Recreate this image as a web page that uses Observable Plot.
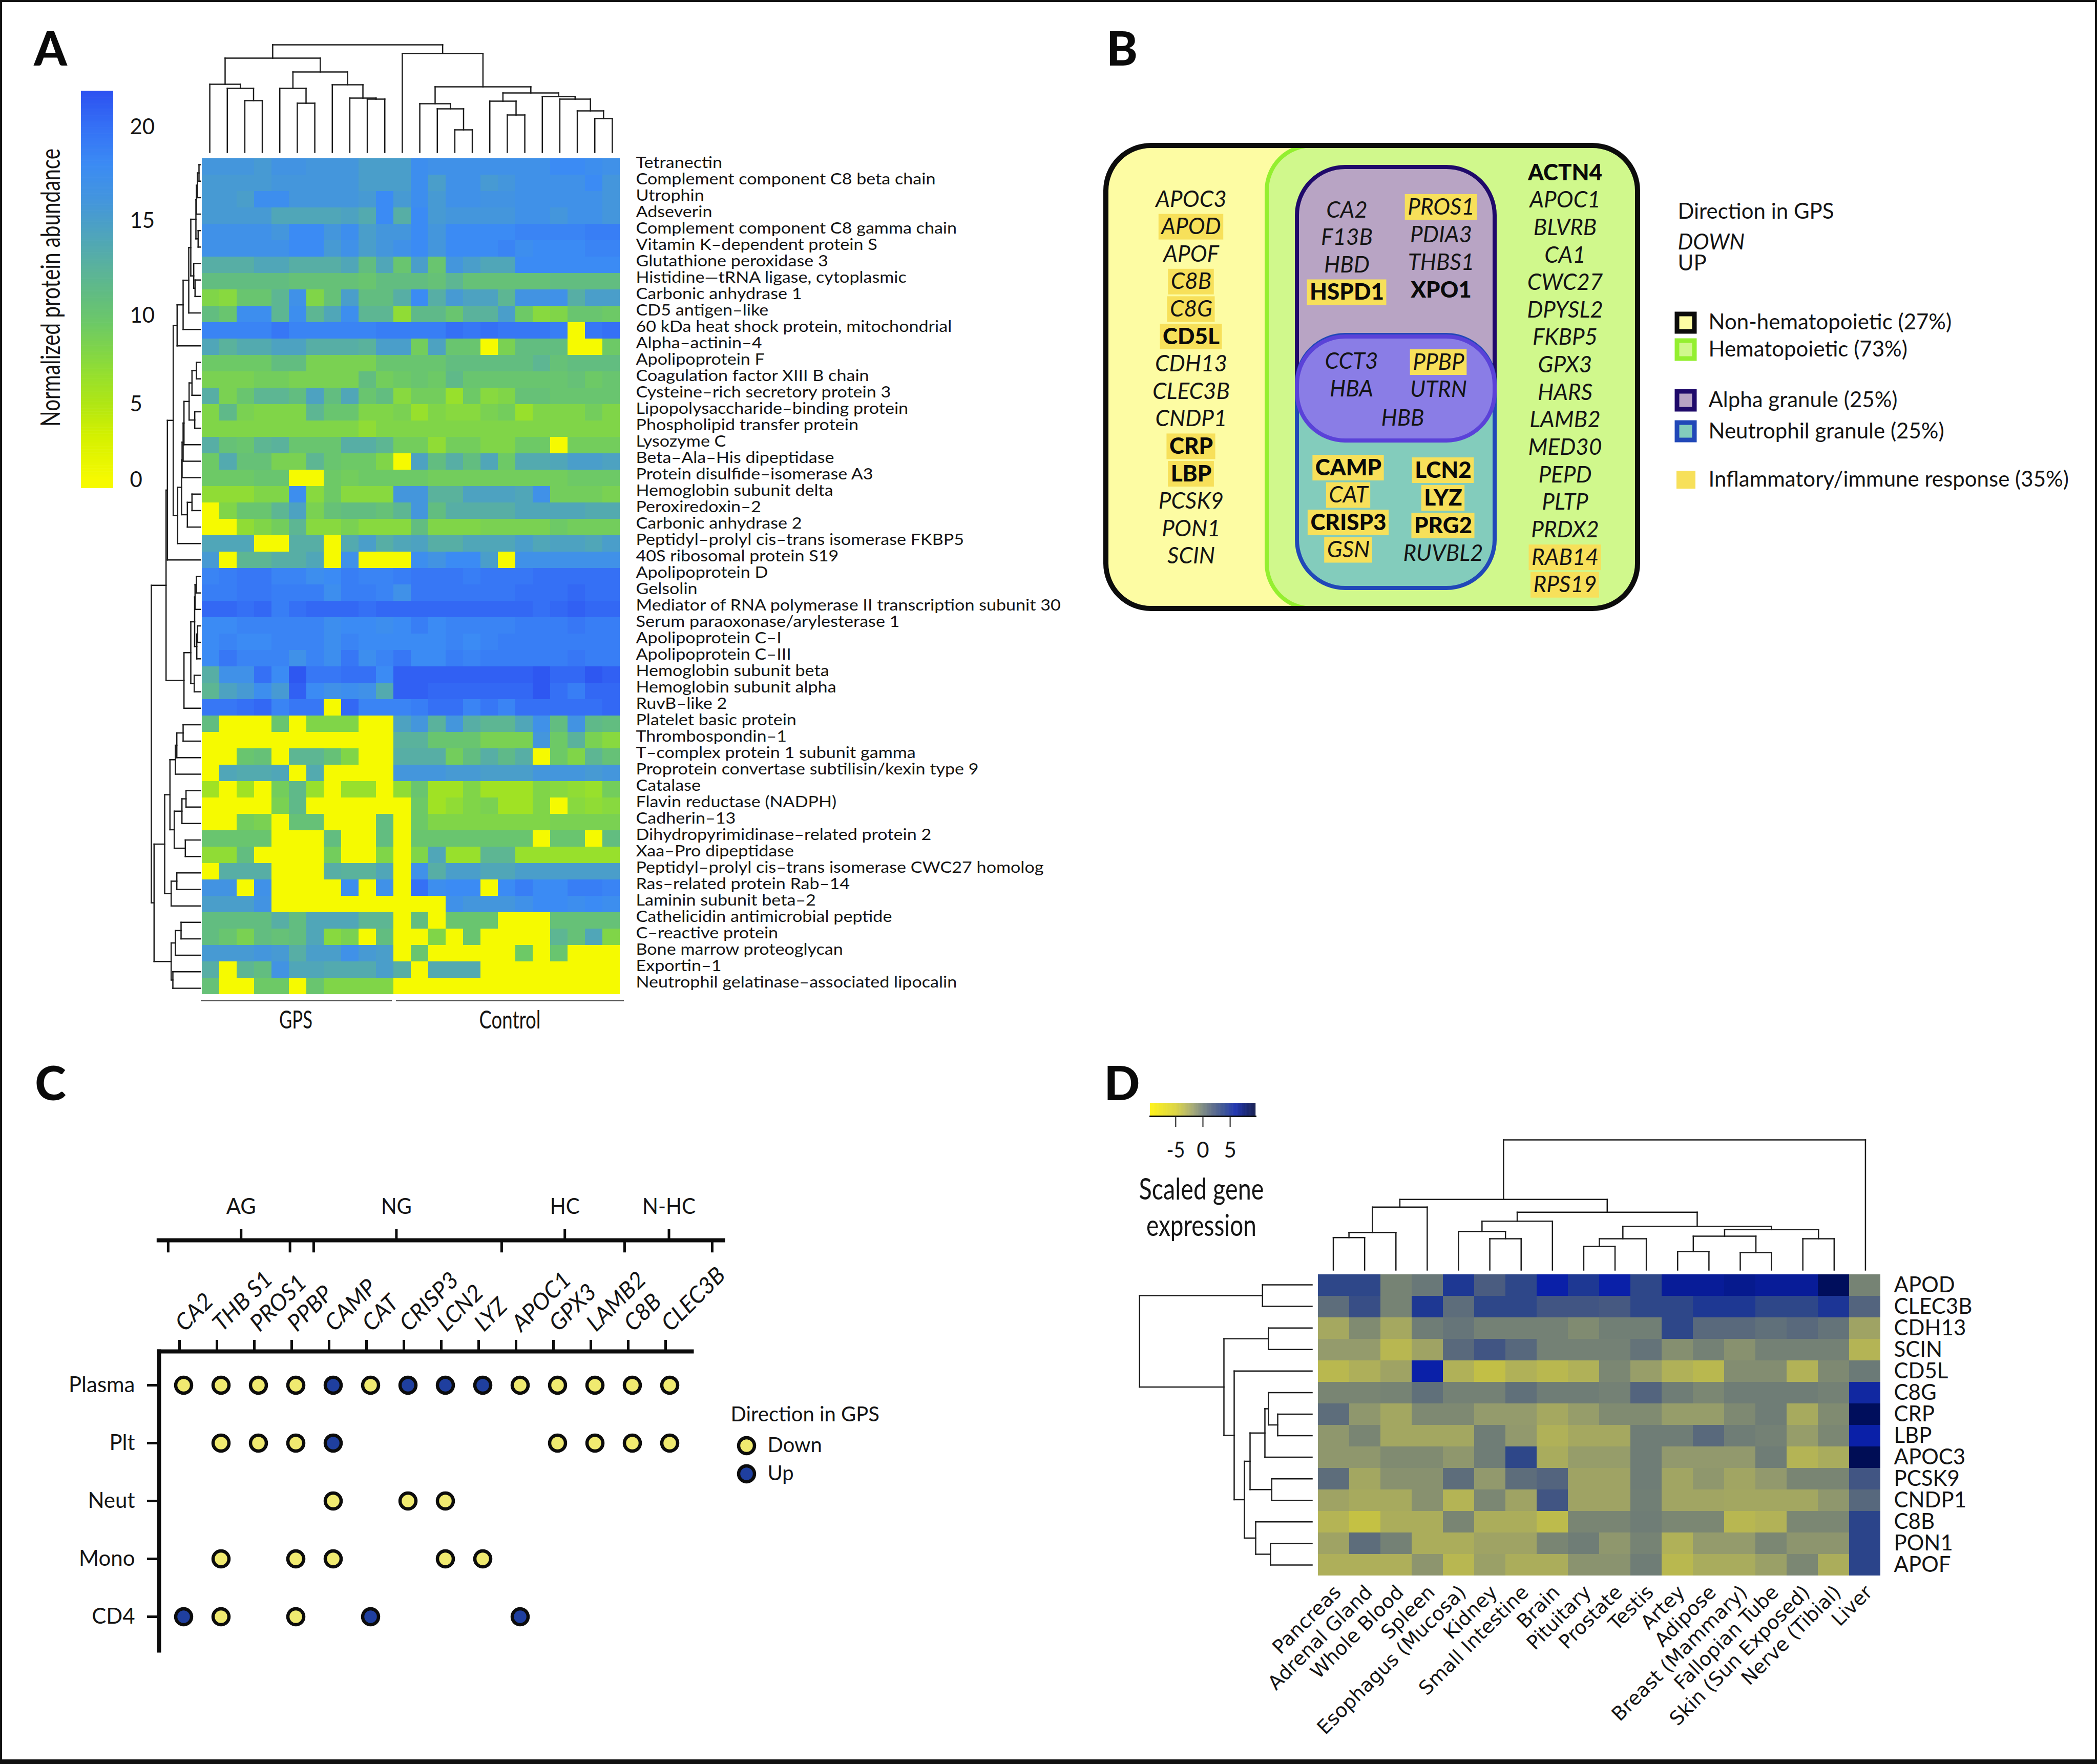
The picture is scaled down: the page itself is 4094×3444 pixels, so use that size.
<!DOCTYPE html>
<html><head><meta charset="utf-8">
<script src="https://cdn.jsdelivr.net/npm/d3@7"></script>
<script src="https://cdn.jsdelivr.net/npm/@observablehq/plot@0.6"></script>
<style>
html,body{margin:0;padding:0;background:#fff}
#root{position:relative;width:4094px;height:3444px;overflow:hidden;background:#fff}
#frame{position:absolute;inset:0;border:solid #111;border-width:4px 4px 9px 4px;box-sizing:border-box;pointer-events:none}
</style></head><body><div id="root"><div id="frame"></div></div>
<script>
// ---------- Panel A data ----------
const proteins=["Tetranectin","Complement component C8 beta chain","Utrophin","Adseverin","Complement component C8 gamma chain","Vitamin K–dependent protein S","Glutathione peroxidase 3","Histidine—tRNA ligase, cytoplasmic","Carbonic anhydrase 1","CD5 antigen–like","60 kDa heat shock protein, mitochondrial","Alpha–actinin–4","Apolipoprotein F","Coagulation factor XIII B chain","Cysteine–rich secretory protein 3","Lipopolysaccharide–binding protein","Phospholipid transfer protein","Lysozyme C","Beta–Ala–His dipeptidase","Protein disulfide–isomerase A3","Hemoglobin subunit delta","Peroxiredoxin–2","Carbonic anhydrase 2","Peptidyl–prolyl cis–trans isomerase FKBP5","40S ribosomal protein S19","Apolipoprotein D","Gelsolin","Mediator of RNA polymerase II transcription subunit 30","Serum paraoxonase/arylesterase 1","Apolipoprotein C–I","Apolipoprotein C–III","Hemoglobin subunit beta","Hemoglobin subunit alpha","RuvB–like 2","Platelet basic protein","Thrombospondin–1","T–complex protein 1 subunit gamma","Proprotein convertase subtilisin/kexin type 9","Catalase","Flavin reductase (NADPH)","Cadherin–13","Dihydropyrimidinase–related protein 2","Xaa–Pro dipeptidase","Peptidyl–prolyl cis–trans isomerase CWC27 homolog","Ras–related protein Rab–14","Laminin subunit beta–2","Cathelicidin antimicrobial peptide","C–reactive protein","Bone marrow proteoglycan","Exportin–1","Neutrophil gelatinase–associated lipocalin"];
const abundance=[
[16,16,16,15.5,16.5,16.5,16,16,16,15,15,15,17.5,17,17,17,17,17,17,17,18,18,17.5,17],
[15.5,15.5,15.5,15.5,16,16,16,16,16,15,15,15,17.5,15,17,17,15.5,16,17,17,17,17,18,16],
[15.5,15.5,15,17.5,17.5,16,16,16,16,15.5,18,15.5,17.5,15.5,17,17,16.5,16.5,17,17,17,17,17,16],
[15.5,15.5,15.5,15.5,14,14,14,14,14.5,13.5,18,13,18,15.5,16,16,16,16,17,17,16,17,17,16],
[17,17,17,17,16,18,18,16,17.5,15,16,16,18,16,18,18,18,18,18.5,18.5,18.5,18.5,19,19],
[17,17,17,17,17,18,18,15.5,17,15,16,17,18,16,18,18,18,18.5,17.5,18,18,18,18.5,18.5],
[13,13,13,14,14,13,13,13,14,11,14,10,15,10,16,15,14,14,18,18,18,18,18,18],
[11,11,11,11,11,10.5,10.5,10.5,10.5,10,11,11,11,10.5,12,10.5,10.5,10.5,10.5,10.5,11,11,11,11],
[8,7.5,10,10,12,17,8,10.5,15,11,11,13,18,13,15.5,14.5,14.5,12,16.5,16.5,17,13,15,15],
[11,10,17.5,17.5,12,17.5,12,14,17.5,12,12,7,11.5,11.5,10,12.5,12.5,15,9.5,7.5,8,10,10,9.5],
[18.5,18.5,18.5,18.5,19.5,18.5,18.5,18.5,18.5,18.5,19,19,19,19,20,19.5,20,19.5,19.5,19.5,19,0,19.5,20],
[14,12.5,13.5,13.5,14.5,14.5,13,13,13,12.5,15,15,9,14.5,10,10,0,8.5,11,11,11,0,0,9.5],
[9.5,9.5,9.5,9.5,11,11,8.5,8.5,8.5,8.5,10,10,10,10,11,11,11,11,11,12,10.5,11,11,11],
[8.5,8.5,8.5,9,9,8.5,8.5,8.5,8.5,11,9,9.5,10,9.5,11.5,10,10,10,10,10,10,10.5,9.5,10],
[13,8.5,10,12,12,11,14.5,11,14,10,11,7.5,9,9,6.5,9.5,7.5,8,10.5,10.5,10,10,10,10],
[8,11.5,8.5,8,8,8,12,10,10,8,8,8.5,6.5,8,7.5,7.5,8.5,9,6.5,8,8,8,9,8],
[8,8,8,8,8,8,8,8,8,7,8,8,8,8,8,8,8,8,8,8,8,8,8,8],
[13,10.5,10,12,12.5,10,10,10,13,13,12,9,9,7,9,9,8,8,9.5,9.5,0,9,9,9],
[9.5,13.5,10.5,10.5,8.5,8.5,12,10,9.5,9.5,8,0,14.5,11,13,11,14,9.5,13.5,13.5,14,15,15,14.5],
[9.5,9.5,9.5,10,10,0,0,9.5,9,9.5,9.5,9.5,9.5,9,9,9,9,9,9,9,9,9.5,9.5,9.5],
[7,7,7,8,8,17.5,7.5,9.5,7.5,7.5,7.5,16,16,12.5,12.5,14.5,14.5,14.5,14,17,9,9,9,8.5],
[0,8,10,10,12,14.5,8.5,10.5,11,11,10.5,12,16,11,13,13,13,13,14,14,14,14,13.5,13.5],
[0,0,7,8,9,12,7.5,7.5,8.5,7.5,7.5,7.5,11,8,8,8,8.5,8.5,8.5,8.5,9.5,9,9,9],
[14,14,14,0,0,13,13,0,13.5,15,13,14,14.5,13,13,14,14,14,15,14,14.5,14.5,14,15],
[15.5,0,12,12,13,13,14,0,17,0,0,0,17.5,16.5,18,18,15,0,17,17,17,17,17,17],
[18.5,19,19.5,19.5,18.5,18.5,17.5,18,19,18.5,18.5,19,19.5,19.5,19.5,19,19.5,19.5,19.5,20,20,20,20,20],
[19,19,19.5,19.5,19,19,19,17.5,19,19,18.5,17,19.5,19.5,19.5,19.5,19.5,19.5,20,20,20,20.5,20,20],
[20.5,20.5,20,20.5,19,20,20.5,20.5,20.5,20,20.5,20.5,20.5,20.5,20.5,20.5,20.5,20.5,20.5,20,20.5,21,20.5,20.5],
[18,18,18.5,18.5,18.5,18.5,18.5,17.5,18,18,17.5,18,19,18,18.5,18.5,18.5,18.5,19,19,19,19.5,19,19],
[18,18.5,18,18,18.5,18.5,18.5,17.5,18.5,18,18,18,18,18,18.5,18,18.5,19,19,19,19,19,19,19],
[18,19.5,18.5,18.5,18.5,17,18.5,17.5,19.5,17.5,18.5,19.5,18,18,19,18.5,19,19,19,19,19,19.5,19,19],
[13,17,17,20,18,21.5,19.5,19.5,20,20,18,21,21,21,21,21,21,21,21,21.5,20.5,20.5,21.5,21],
[12,14.5,15.5,17.5,15.5,21,18,17,17.5,17,13.5,21,21,20.5,20.5,20.5,20.5,20.5,20.5,21.5,20,19,20.5,20.5],
[19.5,19.5,20,20.5,18.5,19.5,19.5,0,20.5,18.5,18.5,18.5,19,20,20,18.5,19.5,18.5,20,20,20,20,20,20.5],
[11,0,0,0,10,0,8,8,8,0,0,14.5,16,12.5,16,13,12,12,14,17,11,16.5,11.5,11],
[0,0,0,0,0,0,0,0,0,0,0,12.5,12.5,10,10,10,8.5,8.5,8.5,16,9.5,12.5,8.5,7.5],
[0,0,10,10.5,0,12,12,10.5,8,0,0,13,13,13,9,11,13,11.5,13,0,9.5,8,12,10.5],
[0,14,13.5,13.5,14,0,13.5,0,0,0,0,16,16,16,15.5,15.5,15,15,15,16,16,16,15.5,16],
[6,0,6,0,9,11.5,6.5,0,6.5,6.5,0,7,10,6,6,8,6,6,6,8,7.5,7,6.5,9],
[0,0,0,0,8.5,11.5,0,0,0,0,0,0,9.5,6,7,8,8.5,6,6,8,0,7.5,7,7.5],
[0,0,9,8.5,0,10.5,10.5,0,0,0,11,0,9.5,8,8,8,8,8,8,8,8.5,8.5,8.5,8.5],
[10,10,10,10,0,0,0,11,0,0,11,0,10,10,10,10,10,10,10,0,10,10,0,11],
[7,7,11,0,0,0,0,9,0,0,8,0,8,14,6.5,6.5,12,12,6.5,6.5,6.5,6.5,6.5,6.5],
[0,13,13,13,0,0,0,13,12.5,12.5,14,0,17,13,15,15,14,14,15,15,15,15,15,15],
[16.5,16.5,0,17,0,0,0,0,17.5,0,17,0,20,17.5,18,18,0,18,19,18,18,19,19,18.5],
[15,15,15,16.5,0,0,0,0,0,0,0,0,0,0,17,16,16,16,17,18,18,17.5,18,17.5],
[11,11,11,11,13,11,14,14,14,12,12,0,11,0,10,10,10,0,0,0,10.5,10.5,10.5,10.5],
[11,10,8.5,11,10.5,11,14,7.5,8.5,0,11,0,0,8,0,10,0,0,0,0,12,10.5,14,8],
[15.5,15.5,15.5,16,15.5,13,15,15,17,15.5,15,0,10,0,0,0,0,0,9.5,0,10,0,0,0],
[13,0,12,11,16.5,14,14,13.5,13.5,13.5,15,13,0,13.5,13.5,13.5,0,0,0,0,0,0,0,0],
[10.5,0,0,9.5,9.5,0,10,8,8,8,8,0,0,0,0,0,0,0,0,0,0,0,0,0]
];
const abundanceStops=[0,3,5,6.5,8,9.5,11,12.5,14,16,18,20,22];
const abundanceColors=["#f6fa00","#d2f000","#b0e614","#98e02c","#80d548","#6dc966","#62bd80","#5ab29c","#50a6b8","#4496dc","#3b8bf4","#3570f5","#2c4ff0"];
const abundanceTicks=[0,5,10,15,20];
// nested merges: [height, left, right]; numbers are leaves
const sampleTree=[210,[184,[133,0,[125,1,[101,2,3]]],[157,[125,4,[96,5,6]],[132,7,[106,8,[104,9,10]]]]],[193,11,[128,[95,12,[85,13,[44,14,15]]],[116,[100,16,[73,17,18]],[109,19,[104,20,[81,21,[66,22,23]]]]]]]];
const proteinTree=[96,[67.3,[64.7,[53.3,[45.7,[34,[23,[19,[9,[8,[6,[3,0,1],2],3],[4.7,4,5]],[13.3,6,[10.7,7,8]]],9],10],11],[44.7,[37,[36,[34,[32.3,[22.3,[16.7,[8,12,13],14],[11.3,15,16]],17],18],19],[25.7,[16.7,20,21],22]],23]],24],[32.3,[19,[11.5,[10.7,[8,25,26],27],[7.3,[5.7,28,29],30]],[12.3,31,32]],33]],[90.7,[70,[59.7,[49,[46.3,[34,34,35],36],37],[51.3,[36.3,[28.3,38,39],40],[29.7,41,42]]],[57.3,[46.3,43,44],45]],[57.3,[49,[38,46,47],48],[54,49,50]]]];
const groupNames=["GPS","Control"];

// ---------- Panel B data ----------
const geneColumns=[
 ["APOC3","APOD","APOF","C8B","C8G","CD5L","CDH13","CLEC3B","CNDP1","CRP","LBP","PCSK9","PON1","SCIN"],
 ["ACTN4","APOC1","BLVRB","CA1","CWC27","DPYSL2","FKBP5","GPX3","HARS","LAMB2","MED30","PEPD","PLTP","PRDX2","RAB14","RPS19"],
 ["CA2","F13B","HBD","HSPD1"],["PROS1","PDIA3","THBS1","XPO1"],
 ["CCT3","HBA"],["PPBP","UTRN"],["HBB"],
 ["CAMP","CAT","CRISP3","GSN"],["LCN2","LYZ","PRG2","RUVBL2"]
];
const inflammatory=["APOD","C8B","C8G","CD5L","CRP","LBP","RAB14","RPS19","PROS1","HSPD1","PPBP","CAMP","CAT","CRISP3","GSN","LCN2","LYZ","PRG2"];
const upGenes=["CD5L","CRP","LBP","ACTN4","HSPD1","XPO1","CAMP","CRISP3","LCN2","LYZ","PRG2"];
const legendB=["Non-hematopoietic (27%)","Hematopoietic (73%)","Alpha granule (25%)","Neutrophil granule (25%)","Inflammatory/immune response (35%)"];

// ---------- Panel C data ----------
const dotGenes=["CA2","THB S1","PROS1","PPBP","CAMP","CAT","CRISP3","LCN2","LYZ","APOC1","GPX3","LAMB2","C8B","CLEC3B"];
const compartments=["Plasma","Plt","Neut","Mono","CD4"];
const downByCompartment={Plasma:["CA2","THB S1","PROS1","PPBP","CAT","APOC1","GPX3","LAMB2","C8B","CLEC3B"],Plt:["THB S1","PROS1","PPBP","GPX3","LAMB2","C8B","CLEC3B"],Neut:["CAMP","CRISP3","LCN2"],Mono:["THB S1","PPBP","CAMP","LCN2","LYZ"],CD4:["THB S1","PPBP"]};
const upByCompartment={Plasma:["CAMP","CRISP3","LCN2","LYZ"],Plt:["CAMP"],Neut:[],Mono:[],CD4:["CA2","CAT","APOC1"]};
const groupTicks=[1.57,5.7,10.18,12.95];
const groupLabels=["AG","NG","HC","N-HC"];
const groupDividers=[-0.37,2.87,3.5,8.5,11.77,14.1];

// ---------- Panel D data ----------
const genesD=["APOD","CLEC3B","CDH13","SCIN","CD5L","C8G","CRP","LBP","APOC3","PCSK9","CNDP1","C8B","PON1","APOF"];
const tissues=["Pancreas","Adrenal Gland","Whole Blood","Spleen","Esophagus (Mucosa)","Kidney","Small Intestine","Brain","Pituitary","Prostate","Testis","Artey","Adipose","Breast (Mammary)","Fallopian Tube","Skin (Sun Exposed)","Nerve (Tibial)","Liver"];
const expression=[
[3.5,3.5,-0.3,0.3,4.5,2,3.5,6,4.5,6,3.5,6.5,6.5,6.8,6.5,6.5,8.5,-0.3],
[1,3,-0.3,4.5,1,3.5,3.5,2.5,2.5,2.2,3.5,3.5,4.5,4.5,3.5,3.5,4.7,1.5],
[-2.3,-0.7,-2.3,0,0.5,-0.2,-0.2,-0.2,-0.7,-0.1,-0.1,3.5,1.2,1.2,0.8,1.2,0.6,-2],
[-1.5,-1.5,-3.2,-2,1.2,2.5,1.3,-0.2,-0.2,-0.2,0.6,-0.9,-0.2,-1,-0.2,-0.2,-0.2,-3],
[-3.3,-2.7,-2,6,-2.8,-3.8,-2.8,-3.3,-2.8,-0.5,-1.7,-2.8,-3.3,-0.8,-0.8,-2.9,-0.6,0.2],
[-0.4,-0.4,-0.3,0.8,-0.2,-0.2,0.8,0,0,-0.2,1.5,0,-0.5,0,0,0,-0.2,5.5],
[1,-1.3,-2.2,-0.6,-0.6,-1.5,-1.5,-2.3,-1.6,-0.7,-0.7,-1.6,-1.6,-0.6,0,-2.4,-0.7,8.5],
[-1.3,-0.4,-2.2,-2.2,-2.2,0,-1.4,-2.8,-2.3,-2.3,0,0,1.2,0,-0.2,-1.6,-0.5,6],
[-1.3,-1.3,-0.7,-0.7,-1.3,0,3.5,-2.5,-1.6,-1.6,0,-1.4,-1.4,-1.4,0,-3,-2.5,8.8],
[1,-2.2,-1,-1,1,-1.4,1,1.5,-2,-2,0,-2.1,-1.3,-2.1,-1.4,-0.4,-0.4,2.5],
[-2,-2.4,-2.4,-1,-3,-0.5,-2,2.5,-2,-2,-0.1,-2.1,-2.1,-2.2,-2.2,-2.2,-1.3,1.3],
[-3,-3.9,-2.6,-2.6,-0.4,-2.6,-2.6,-3.5,-0.4,-0.4,0,-0.5,-0.5,-3.2,-2.9,-0.5,-0.5,3.7],
[-2,1,-0.2,-2.6,-2.6,-2,-2,-0.4,0,-1.3,-0.3,-2.8,-1.5,-1.5,-0.5,-1.2,-1.2,3.7],
[-2.7,-2.7,-2.7,-1.2,-3.2,-1.8,-2.6,-2.6,-1.1,-1.1,0,-3.3,-2.5,-2.5,-1.8,-0.5,-2.6,3.7]
];
const expressionStops=[-9.7,-5,-3,-1.5,0,2,4,6,8,9.7];
const expressionColors=["#fff200","#d8d030","#b4b455","#949b6c","#6f7d76","#4a5c80","#25408c","#0a20a8","#001068","#000a40"];
const expressionTicks=[-5,0,5];
const tissueTree=[254,[137.7,[122.7,[73.3,[63.3,0,1],2],3],[112.7,[95.3,[75.3,4,[61,5,6]],7],[85.3,[61,[46,8,9],10],[78.7,[66,[36,11,12],[34,13,14]],[61,15,16]]]]],17];
const geneTree=[336.7,[96.7,0,1],[172,[85,2,3],[152,4,[132,[121,[92,[85,5,[67,6,7]],8],[78.7,9,10]],[110,11,[81,12,13]]]]]];

// ---------- helpers ----------
const root=document.getElementById("root");
const FONT="Lato, 'Open Sans', sans-serif";
const INK="#141414";
function place(opts,left,top){
  const svg=Plot.plot({margin:0,axis:null,...opts,style:{position:"absolute",left:left+"px",top:top+"px",overflow:"visible",background:"transparent",fontFamily:FONT,color:INK,maxWidth:"none",...(opts.style||{})}});
  root.appendChild(svg);return svg;
}
function merges(tree){
  const segs=[];
  (function walk(n){
    if(typeof n==="number")return{p:n,h:0};
    const [h,a,b]=n,A=walk(a),B=walk(b);
    segs.push({p1:A.p,h1:h,p2:B.p,h2:h},{p1:A.p,h1:A.h,p2:A.p,h2:h},{p1:B.p,h1:B.h,p2:B.p,h2:h});
    return{p:(A.p+B.p)/2,h};
  })(tree);
  return segs;
}
const longForm=(m,rows,cols)=>m.flatMap((r,i)=>r.map((v,j)=>({row:rows[i],col:cols[j],v})));
const dendroTop=(tree,n,left,bottom,width,top)=>place({width,height:bottom-top,x:{domain:[-.5,n-.5],range:[0,width]},y:{domain:[0,bottom-top],range:[bottom-top,0]},
  marks:[Plot.link(merges(tree),{x1:"p1",x2:"p2",y1:"h1",y2:"h2",stroke:"#1c1c1c",strokeWidth:2.5,strokeLinecap:"square"})]},left,top);
const dendroLeft=(tree,n,left,top,width,height)=>place({width,height,x:{domain:[width,0],range:[0,width]},y:{domain:[-.5,n-.5],range:[0,height]},
  marks:[Plot.link(merges(tree),{x1:"h1",x2:"h2",y1:"p1",y2:"p2",stroke:"#1c1c1c",strokeWidth:2.5,strokeLinecap:"square"})]},left,top);

// ---------- Panel A ----------
const sampleIds=d3.range(24);
const colorA={type:"linear",domain:abundanceStops,range:abundanceColors,clamp:true};
const proteinPlot=place({width:820+900,height:1640,marginRight:900,
  x:{type:"band",domain:sampleIds,padding:0},y:{type:"band",domain:proteins,padding:0},color:colorA,
  marks:[Plot.cell(longForm(abundance,proteins,sampleIds),{x:"col",y:"row",fill:"v",shapeRendering:"crispEdges"}),
    Plot.axisY({anchor:"right",label:null,tickSize:0,tickPadding:29,dy:-7,fontSize:31})]},392,305);
dendroTop(sampleTree,24,392,297,820,86);
dendroLeft(proteinTree,51,280,305,111,1640);
// colour bar: its printed ticks are unevenly spaced, so the key has its own value-to-position map
const barY=d3.scaleLinear().domain([-0.4,0,5,10,15,20,21.9]).range([775,759,611,438,253,70,0]);
place({width:63+100,height:775,marginRight:100,
  y:{domain:[0,775],range:[0,775]},color:colorA,
  marks:[Plot.rect(d3.range(-0.4,21.9,0.05),{y1:d=>barY(d),y2:d=>barY(d+0.07),fill:d=>d}),
    Plot.axisY(abundanceTicks.map(barY),{anchor:"right",label:null,tickSize:0,tickPadding:32,fontSize:42,tickFormat:p=>Math.round(barY.invert(p))})]},158,178);

// ---------- Panel B ----------
const regions=[
 {x1:2159,x2:3197,y1:284,y2:1188,rx:88,fill:"#fdfca3"},
 {x1:2473,x2:3197,y1:284,y2:1188,rx:88,fill:"#d0f88c",stroke:"#94ef30",sw:8},
 {x1:2159,x2:3197,y1:284,y2:1188,rx:88,fill:"none",stroke:"#0c0c0c",sw:10},
 {x1:2532,x2:2918,y1:326,y2:860,rx:94,fill:"#b8a4c4",stroke:"#1f0a6a",sw:8},
 {x1:2532,x2:2918,y1:654,y2:1148,rx:94,fill:"#83ccbc",stroke:"#2148b8",sw:8},
 {x1:2532,x2:2918,y1:657,y2:860,rx:94,fill:"#8a7de6",stroke:"#5a42d8",sw:8}
];
const swatches=[
 {x1:3274,x2:3308,y1:613,y2:647,fill:"#fdfca3",stroke:"#0c0c0c",sw:9},
 {x1:3274,x2:3308,y1:665,y2:700,fill:"#d0f88c",stroke:"#94ef30",sw:9},
 {x1:3274,x2:3308,y1:764,y2:799,fill:"#b8a4c4",stroke:"#1f0a6a",sw:9},
 {x1:3274,x2:3308,y1:825,y2:859,fill:"#83ccbc",stroke:"#2148b8",sw:9},
 {x1:3273,x2:3310,y1:919,y2:954,fill:"#f7e05a"}
];
const columnLayout=[[2325,389,53.6],[3055,337,53.65],[2629,410,53.5],[2813,404,54],[2638,705,54],[2808,707,53.5],[2738,816,0],[2632,913,53.5],[2817,918,54]];
const measure=document.createElement("canvas").getContext("2d");
const geneRows=geneColumns.flatMap((g,c)=>g.map((name,i)=>{
  const [x,y0,step]=columnLayout[c],bold=upGenes.includes(name);
  measure.font=bold?"900 44px Lato":"italic 400 44px Lato";
  return{name,x,y:y0+i*step,bold,hi:inflammatory.includes(name),w:measure.measureText(name).width+10};
}));
const rectOf=r=>Plot.rect([r],{x1:"x1",x2:"x2",y1:"y1",y2:"y2",fill:r.fill,stroke:r.stroke||"none",strokeWidth:r.sw||0,rx:r.rx||0});
const legendYs=[629,682,781,842,936];
place({width:1994,height:970,x:{domain:[2100,4094],range:[0,1994]},y:{domain:[250,1220],range:[0,970]},
 marks:[...regions.map(rectOf),...swatches.map(rectOf),
  Plot.rect(geneRows.filter(d=>d.hi),{x1:d=>d.x-d.w/2,x2:d=>d.x+d.w/2,y1:d=>d.y-25,y2:d=>d.y+25,fill:"#f7e05a"}),
  Plot.text(geneRows.filter(d=>!d.bold),{x:"x",y:"y",text:"name",fontSize:44,fontStyle:"italic",fill:INK}),
  Plot.text(geneRows.filter(d=>d.bold),{x:"x",y:"y",text:"name",fontSize:44,fontWeight:900,fill:"#0a0a0a"}),
  Plot.text(["Direction in GPS"],{x:3275,y:413,text:d=>d,textAnchor:"start",fontSize:42,fill:INK}),
  Plot.text(["DOWN"],{x:3275,y:473,text:d=>d,textAnchor:"start",fontSize:42,fontStyle:"italic",fill:INK}),
  Plot.text(["UP"],{x:3275,y:514,text:d=>d,textAnchor:"start",fontSize:42,fill:INK}),
  Plot.text(legendB,{x:3335,y:(d,i)=>legendYs[i],text:d=>d,textAnchor:"start",fontSize:42,fill:INK})
 ]},2100,250);

// ---------- Panel C ----------
const dots=compartments.flatMap(c=>[...downByCompartment[c].map(g=>({c,g,dir:"Down"})),...upByCompartment[c].map(g=>({c,g,dir:"Up"}))]);
const dirColor={Down:"#f0ea70",Up:"#1f3f9f"};
place({width:1500,height:800,marginLeft:310,marginTop:188,marginRight:150,marginBottom:28,
 x:{type:"point",domain:dotGenes,range:[355,1310],padding:0},y:{type:"point",domain:compartments,range:[253,707],padding:0},
 marks:[
  Plot.frame({anchor:"top",stroke:"#0c0c0c",strokeWidth:8}),Plot.frame({anchor:"left",stroke:"#0c0c0c",strokeWidth:8}),
  Plot.axisX({anchor:"top",label:null,tickSize:23,strokeWidth:5,stroke:"#0c0c0c",tickPadding:24,tickRotate:-45,dx:-8,fontSize:45,fontStyle:"italic",fill:INK}),
  Plot.axisY({anchor:"left",label:null,tickSize:23,strokeWidth:5,stroke:"#0c0c0c",tickPadding:24,fontSize:42,fill:INK}),
  Plot.dot(dots,{x:"g",y:"c",r:15.5,strokeWidth:6.5,stroke:"#0c0c0c",fill:d=>dirColor[d.dir]})
 ],color:{type:"identity"}},0,2450);
place({width:1500,height:200,x:{domain:[-1,15],range:[281.6,1456]},y:{domain:[-2,4],range:[165,33]},
 marks:[Plot.ruleY([0],{x1:-0.67,x2:14.45,stroke:"#0c0c0c",strokeWidth:8}),
  Plot.ruleX(groupTicks,{y1:0,y2:1,stroke:"#0c0c0c",strokeWidth:5}),
  Plot.ruleX(groupDividers,{y1:0,y2:-1.1,stroke:"#0c0c0c",strokeWidth:5}),
  Plot.text(groupLabels,{x:(d,i)=>groupTicks[i],y:2.95,text:d=>d,fontSize:42,fill:INK})]},0,2300);
// direction key
place({width:300,height:160,x:{domain:[0,300],range:[0,300]},y:{domain:[0,160],range:[0,160]},
 marks:[Plot.text(["Direction in GPS"],{x:0,y:22,text:d=>d,textAnchor:"start",fontSize:40,fill:INK}),
  Plot.dot(Object.keys(dirColor),{x:31,y:(d,i)=>82+i*55,r:15.5,strokeWidth:6.5,stroke:"#0c0c0c",fill:d=>dirColor[d]}),
  Plot.text(Object.keys(dirColor),{x:72,y:(d,i)=>82+i*55,text:d=>d,textAnchor:"start",fontSize:40,fill:INK})],color:{type:"identity"}},1426,2740);

// ---------- Panel D ----------
const colorD={type:"linear",domain:expressionStops,range:expressionColors,clamp:true};
place({width:1100+300,height:589+340,marginRight:300,marginBottom:340,
 x:{type:"band",domain:tissues,padding:0},y:{type:"band",domain:genesD,padding:0},color:colorD,
 marks:[Plot.cell(longForm(expression,genesD,tissues),{x:"col",y:"row",fill:"v",shapeRendering:"crispEdges"}),
  Plot.axisY({anchor:"right",label:null,tickSize:0,tickPadding:25,fontSize:42}),
  Plot.axisX({anchor:"bottom",label:null,tickSize:0,tickPadding:26,tickRotate:-45,dx:8,fontSize:38,fontFamily:"DejaVu Sans"})]},2572,2487);
dendroTop(tissueTree,18,2572,2479,1100,2222);
dendroLeft(geneTree,14,2220,2487,341,589);
place({width:206,height:120,marginBottom:94,x:{domain:[-9.7,9.7],range:[0,206]},color:colorD,
 marks:[Plot.rect(d3.range(-9.7,9.7,0.05),{x1:d=>d,x2:d=>d+0.07,fill:d=>d}),
  Plot.frame({anchor:"bottom",stroke:"#111",strokeWidth:3}),
  Plot.axisX(expressionTicks,{anchor:"bottom",label:null,tickSize:21,strokeWidth:2,tickPadding:30,fontSize:42,tickFormat:String})]},2245,2153);

// ---------- page annotations ----------
const panelLetters=[["A",98,98],["B",2190,98],["C",98,2118],["D",2190,2118]];
const pageText=[
 {t:"Normalized protein abundance",x:100,y:561,rotate:-90,size:52},
 {t:groupNames[0],x:577,y:1992,rotate:0,size:48},
 {t:groupNames[1],x:995,y:1992,rotate:0,size:48},
 {t:"Scaled gene",x:2345,y:2323,rotate:0,size:58},
 {t:"expression",x:2345,y:2394,rotate:0,size:58}
];
place({width:4094,height:3444,x:{domain:[0,4094],range:[0,4094]},y:{domain:[0,3444],range:[0,3444]},
 marks:[
  Plot.text(panelLetters,{x:d=>d[1],y:d=>d[2],text:d=>d[0],fontSize:92,fontWeight:900,fill:"#0a0a0a"}),
  Plot.text(pageText,{x:"x",y:"y",text:"t",rotate:"rotate",fontSize:"size",fill:INK}),
  Plot.ruleY([1953],{x1:392,x2:765,stroke:"#555",strokeWidth:2.5}),
  Plot.ruleY([1953],{x1:773,x2:1218,stroke:"#555",strokeWidth:2.5})
 ],style:{pointerEvents:"none"}},0,0);

// reference widths of the condensed lettering
const fitted={"Normalized protein abundance":543,"GPS":65,"Control":120,"Scaled gene":244,"expression":215,"-5":36,"AG":58,"NG":60,"HC":58,"N-HC":104};
root.querySelectorAll("text").forEach(t=>{
  const w=fitted[t.textContent];
  if(w){t.setAttribute("textLength",w);t.setAttribute("lengthAdjust","spacingAndGlyphs");}
});
// the protein labels are set slightly wider than the installed face
const widen=()=>proteinPlot.querySelectorAll("text").forEach(t=>{
  t.setAttribute("textLength",(t.getComputedTextLength()*1.1).toFixed(1));
  t.setAttribute("lengthAdjust","spacingAndGlyphs");
});
widen();
</script></body></html>
